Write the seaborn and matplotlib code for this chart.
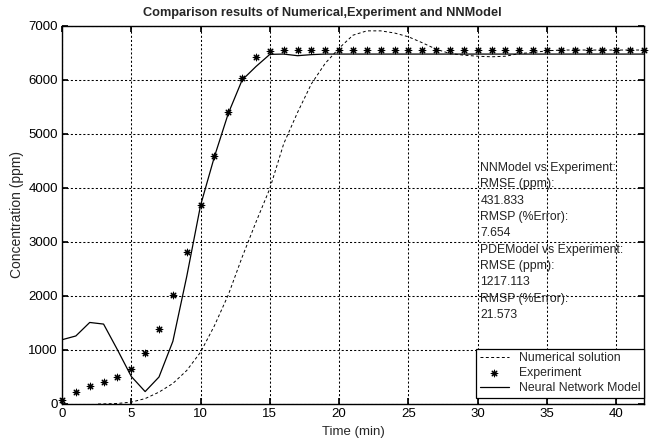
import matplotlib
matplotlib.use('Agg')
import matplotlib.pyplot as plt
import seaborn as sns
import numpy as np

# Experiment (one point per minute)
time_exp = list(range(0, 43))
conc_exp = [70, 230, 340, 400, 495, 650, 946, 1390, 2015, 2813, 3690, 4594, 5405,
            6035, 6420, 6540, 6550, 6555, 6555, 6555, 6555, 6555, 6555, 6555, 6555,
            6555, 6555, 6555, 6555, 6555, 6555, 6555, 6555, 6555, 6555, 6555, 6555,
            6555, 6555, 6555, 6555, 6555, 6555]

# Neural network model
time_nn = list(range(0, 43))
conc_nn = [1190, 1260, 1510, 1480, 1005, 510, 230, 500, 1160, 2360, 3680, 4580,
           5380, 6000, 6250, 6475, 6480, 6450, 6470, 6480, 6480, 6480, 6480, 6480,
           6480, 6480, 6480, 6480, 6480, 6480, 6480, 6480, 6480, 6480, 6480, 6480,
           6480, 6480, 6480, 6480, 6480, 6480, 6480]

# Numerical (PDE) solution
time_num = [2.6, 3, 4, 5, 6, 7, 8, 9, 10, 11, 12, 13, 14, 15, 16, 17, 18, 19, 20,
            21, 22, 23, 24, 25, 26, 27, 28, 29, 30, 31, 32, 33, 34, 35, 36, 37, 38,
            39, 40, 41, 42]
conc_num = [0, 2, 10, 35, 100, 220, 380, 620, 960, 1450, 2020, 2720, 3370, 3990,
            4820, 5400, 5930, 6310, 6590, 6830, 6910, 6910, 6870, 6800, 6690, 6570,
            6490, 6460, 6440, 6430, 6440, 6490, 6510, 6540, 6555, 6555, 6555, 6555,
            6555, 6555, 6555]

stats_text = ("NNModel vs Experiment:\nRMSE (ppm):\n431.833\nRMSP (%Error):\n7.654\n"
              "PDEModel vs Experiment:\nRMSE (ppm):\n1217.113\nRMSP (%Error):\n21.573")

sns.set_theme(style='white')
plt.rcParams['font.family'] = ['Liberation Sans', 'DejaVu Sans']

fig = plt.figure(figsize=(6.5, 4.46), dpi=100)
ax = fig.add_axes([62 / 650, 1 - 404 / 446, 582 / 650, 378 / 446])

sns.lineplot(x=time_num, y=conc_num, ax=ax, color='black', lw=0.7,
             linestyle=(0, (3, 2.5)), label='Numerical solution')
sns.scatterplot(x=time_exp, y=conc_exp, ax=ax, marker=(8, 2, 0), s=22,
                color='black', linewidth=0.8, label='Experiment', clip_on=False,
                zorder=4)
sns.lineplot(x=time_nn, y=conc_nn, ax=ax, color='black', lw=0.9,
             label='Neural Network Model')

ax.set_xlim(0, 42)
ax.set_ylim(0, 7000)
ax.set_xticks(np.arange(0, 41, 5))
ax.set_yticks(np.arange(0, 7001, 1000))
ax.grid(True, color='black', linestyle=(0, (2, 2)), linewidth=0.75)
ax.tick_params(direction='in', length=4, labelsize=9.5, colors='black', pad=3,
               top=True, right=True, bottom=True, left=True)
for s in ax.spines.values():
    s.set_color('black')
    s.set_linewidth(1.0)

ax.set_title('Comparison results of Numerical,Experiment and NNModel',
             fontsize=9.2, fontweight='bold', pad=7, x=0.448)
ax.set_xlabel('Time (min)', fontsize=9.5, labelpad=4)
ax.set_ylabel('Concentration (ppm)', fontsize=10, labelpad=3)

ax.text(30.2, 4480, stats_text, fontsize=8.8, color='#222222', va='top',
        ha='left', linespacing=1.48)

leg = ax.legend(loc='lower right', bbox_to_anchor=(1.0, 6 / 378),
                borderaxespad=0, fontsize=8.8, frameon=True, fancybox=False,
                edgecolor='black', framealpha=1, handlelength=2.4,
                labelspacing=0.25, borderpad=0.3, handletextpad=0.8)
leg.get_frame().set_linewidth(0.9)

fig.savefig('out.png', dpi=100, facecolor='white')
